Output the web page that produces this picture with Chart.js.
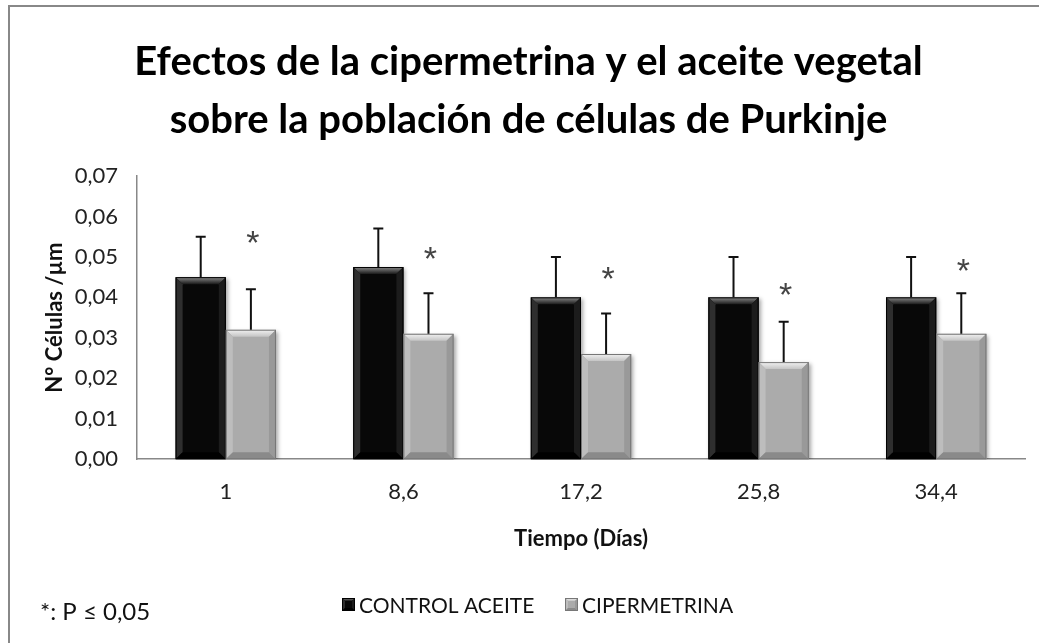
<!DOCTYPE html>
<html>
<head>
<meta charset="utf-8">
<script src="https://cdn.jsdelivr.net/npm/chart.js@4/dist/chart.umd.min.js"></script>
<style>
  html, body { margin: 0; padding: 0; background: #fff; }
  #wrap { position: relative; width: 1039px; height: 643px; overflow: hidden; }
  #frame {
    position: absolute; left: 8px; top: 5px; right: -10px; bottom: -10px;
    border: 2px solid #888; pointer-events: none;
  }
</style>
</head>
<body>
<div id="wrap">
  <canvas id="chart" width="1039" height="643"></canvas>
  <div id="frame"></div>
</div>
<script>
// datos
const categories = ['1', '8,6', '17,2', '25,8', '34,4'];
const controlValues = [0.045, 0.0475, 0.040, 0.040, 0.040];
const controlErrors = [0.010, 0.0095, 0.010, 0.010, 0.010];
const ciperValues = [0.032, 0.031, 0.026, 0.024, 0.031];
const ciperErrors = [0.010, 0.010, 0.010, 0.010, 0.010];
const asteriskLevels = [0.055, 0.051, 0.046, 0.042, 0.048];

const FONT = 'Lato, "Open Sans", sans-serif';

const barStyles = [
  { fill: '#080808', topLight: '#8a8a8a', topDark: '#1a1a1a', left: '#2e2e2e', right: '#1c1c1c', bottom: '#000000', edge: '#000000' },
  { fill: '#ababab', topLight: '#f2f2f2', topDark: '#c4c4c4', left: '#bdbdbd', right: '#999999', bottom: '#8a8a8a', edge: '#777777' }
];

function bevel(ctx, l, t, r, b, s, st) {
  const poly = (pts, fill) => {
    ctx.beginPath();
    ctx.moveTo(pts[0][0], pts[0][1]);
    for (let i = 1; i < pts.length; i++) ctx.lineTo(pts[i][0], pts[i][1]);
    ctx.closePath();
    ctx.fillStyle = fill;
    ctx.fill();
  };
  const g = ctx.createLinearGradient(0, t, 0, t + s);
  g.addColorStop(0, st.topLight);
  g.addColorStop(1, st.topDark);
  poly([[l, t], [r, t], [r - s, t + s], [l + s, t + s]], g);
  poly([[l, t], [l + s, t + s], [l + s, b - s], [l, b]], st.left);
  poly([[r, t], [r - s, t + s], [r - s, b - s], [r, b]], st.right);
  poly([[l, b], [l + s, b - s], [r - s, b - s], [r, b]], st.bottom);
  ctx.strokeStyle = st.edge;
  ctx.lineWidth = 1;
  ctx.strokeRect(l + 0.5, t + 0.5, r - l - 1, b - t - 1);
}

const bevelPlugin = {
  id: 'bevel',
  beforeDatasetsDraw(chart) {
    const ctx = chart.ctx;
    ctx.save();
    ctx.shadowColor = 'rgba(0,0,0,0.35)';
    ctx.shadowBlur = 4;
    ctx.shadowOffsetX = 2;
    ctx.shadowOffsetY = 2;
  },
  afterDatasetsDraw(chart) {
    const ctx = chart.ctx;
    ctx.restore();
    ctx.save();
    chart.data.datasets.forEach((ds, i) => {
      const meta = chart.getDatasetMeta(i);
      meta.data.forEach(el => {
        const p = el.getProps(['x', 'y', 'base', 'width'], true);
        bevel(ctx, p.x - p.width / 2, p.y, p.x + p.width / 2, p.base, 7, barStyles[i]);
      });
    });
    ctx.restore();
  }
};

const errorBarPlugin = {
  id: 'errorBars',
  afterDatasetsDraw(chart) {
    const ctx = chart.ctx;
    const y = chart.scales.y;
    ctx.save();
    ctx.strokeStyle = '#111';
    ctx.lineWidth = 2;
    chart.data.datasets.forEach((ds, i) => {
      const meta = chart.getDatasetMeta(i);
      meta.data.forEach((el, j) => {
        const top = y.getPixelForValue(ds.data[j] + ds.errors[j]);
        ctx.beginPath();
        ctx.moveTo(el.x, el.y);
        ctx.lineTo(el.x, top);
        ctx.moveTo(el.x - 5, top);
        ctx.lineTo(el.x + 5, top);
        ctx.stroke();
      });
    });
    // asteriscos de significancia sobre cipermetrina
    ctx.fillStyle = '#444';
    ctx.font = '34px "Liberation Sans", Arial, sans-serif';
    ctx.textAlign = 'center';
    ctx.textBaseline = 'alphabetic';
    const m = ctx.measureText('*');
    const shift = (m.actualBoundingBoxDescent - m.actualBoundingBoxAscent) / 2;
    const meta = chart.getDatasetMeta(1);
    meta.data.forEach((el, j) => {
      ctx.fillText('*', el.x + 2, y.getPixelForValue(asteriskLevels[j]) - shift);
    });
    ctx.restore();
  }
};

const footerPlugin = {
  id: 'footer',
  afterDraw(chart) {
    const ctx = chart.ctx;
    ctx.save();
    ctx.textBaseline = 'middle';
    ctx.textAlign = 'left';
    ctx.fillStyle = '#111';
    ctx.font = '24px ' + FONT;
    ctx.fillText('*: P \u2264 0,05', 40, 612);

    ctx.font = '21px ' + FONT;
    const starts = [342, 565];
    chart.data.datasets.forEach((ds, i) => {
      const x = starts[i];
      ctx.fillStyle = barStyles[i].fill;
      ctx.fillRect(x, 598, 13, 13);
      bevel(ctx, x, 598, x + 13, 611, 3, barStyles[i]);
      ctx.fillStyle = '#111';
      ctx.fillText(ds.label, x + 17, 606);
    });
    ctx.restore();
  }
};

const ctx = document.getElementById('chart');

new Chart(ctx, {
  type: 'bar',
  data: {
    labels: categories,
    datasets: [
      {
        label: 'CONTROL ACEITE',
        data: controlValues,
        errors: controlErrors,
        backgroundColor: barStyles[0].fill
      },
      {
        label: 'CIPERMETRINA',
        data: ciperValues,
        errors: ciperErrors,
        backgroundColor: barStyles[1].fill
      }
    ]
  },
  options: {
    responsive: false,
    animation: false,
    categoryPercentage: 0.565,
    barPercentage: 1.0,
    layout: { padding: { left: 32, right: 14, top: 0, bottom: 91 } },
    plugins: {
      legend: { display: false },
      tooltip: { enabled: false },
      title: {
        display: true,
        text: ['Efectos de la cipermetrina y el aceite vegetal', 'sobre la población de células de Purkinje'],
        color: '#000',
        font: { family: FONT, size: 40, weight: 'bold', lineHeight: 1.45 },
        padding: { top: 33, bottom: 27 }
      }
    },
    scales: {
      x: {
        grid: { display: false, drawTicks: false },
        border: { color: '#888', width: 1.5 },
        ticks: { color: '#222', font: { family: FONT, size: 22 }, padding: 20 },
        title: {
          display: true,
          text: 'Tiempo (Días)',
          color: '#111',
          font: { family: FONT, size: 22, weight: 'bold' },
          padding: { top: 0, bottom: 0 }
        }
      },
      y: {
        min: 0,
        max: 0.07,
        afterFit(scale) { scale.width = 105; },
        grid: { display: false, drawOnChartArea: false, drawTicks: true, tickLength: 7, tickColor: '#888' },
        border: { color: '#888', width: 1.5 },
        ticks: {
          stepSize: 0.01,
          color: '#222',
          font: { family: FONT, size: 22 },
          padding: 12,
          callback: v => v.toFixed(2).replace('.', ',')
        },
        title: {
          display: true,
          text: 'N° Células /µm',
          color: '#111',
          font: { family: FONT, size: 22, weight: 'bold' },
          padding: { top: 10, bottom: 0 }
        }
      }
    }
  },
  plugins: [bevelPlugin, errorBarPlugin, footerPlugin]
});
</script>
</body>
</html>
